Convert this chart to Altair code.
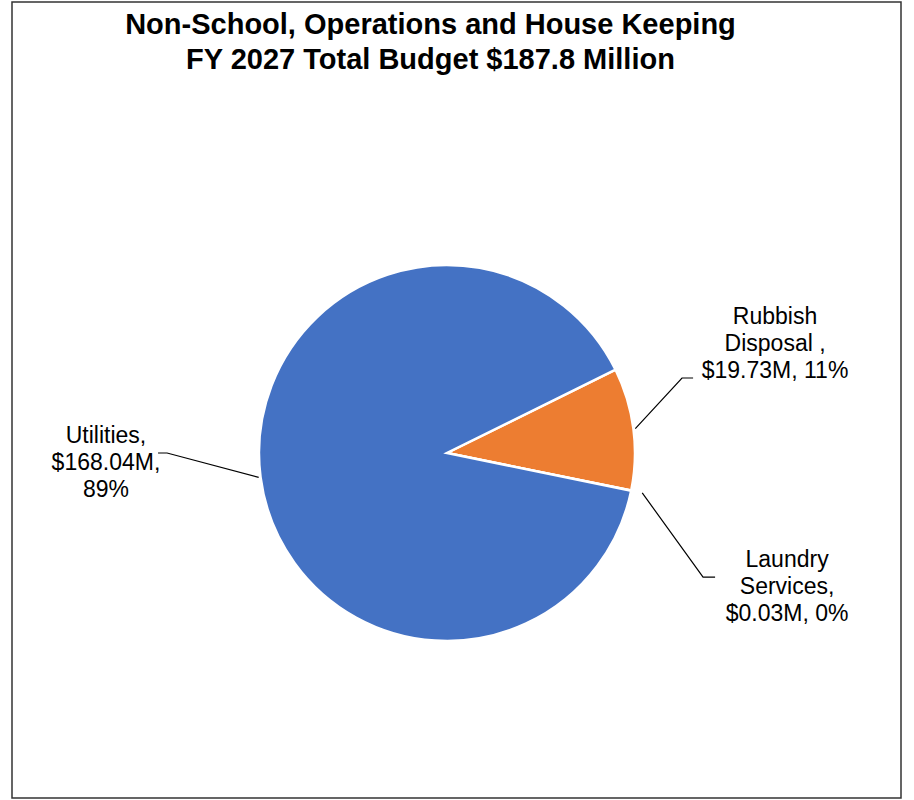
import math
import altair as alt
import pandas as pd

# ---------------- data ----------------
categories = ["Rubbish Disposal ", "Laundry Services", "Utilities"]
values = [19.73, 0.03, 168.04]          # $ millions
name_lines = [["Rubbish", "Disposal ,"], ["Laundry", "Services,"], ["Utilities,"]]
split_value_line = [False, False, True]  # value and % on separate lines?
colors = ["#ED7D31", "#A5A5A5", "#4472C4"]
title_lines = ["Non-School, Operations and House Keeping",
               "FY 2027 Total Budget $187.8 Million"]

# ---------------- layout ----------------
VIEW_W, VIEW_H = 889, 796
PAD_L, PAD_T = 12, 2
CX, CY, R = 435, 451, 188            # pie centre / radius (view px)
START_DEG = 63.7                      # angle of first slice edge (clockwise from 12 o'clock)
EDGE_R = {"Rubbish Disposal ": 1.01, "Laundry Services": 1.06, "Utilities": 1.01}
LEADER = {  # elbow and end of leader lines, in pie-radius units
    "Rubbish Disposal ": [(1.250, -0.399), (1.309, -0.399)],
    "Laundry Services": [(1.362, 0.660), (1.426, 0.660)],
    "Utilities": [(-1.489, 0.0), (-1.537, 0.0)],
}
LABEL_AT = {  # label centre x / first baseline, in pie-radius units
    "Rubbish Disposal ": (1.745, -0.686),
    "Laundry Services": (1.809, 0.607),
    "Utilities": (-1.814, -0.053),
}
FONT = "Liberation Sans"

total = sum(values)
a0 = math.radians(START_DEG)

pie_df = pd.DataFrame({"cat": categories, "value": values, "ord": list(range(len(values)))})

# mid angles of each slice (for leader lines)
line_rows, text_rows = [], []
cum = 0.0
for cat, v, nl, split in zip(categories, values, name_lines, split_value_line):
    mid = a0 + 2 * math.pi * (cum + v / 2) / total
    cum += v
    er = EDGE_R[cat]
    pts = [(er * math.sin(mid), -er * math.cos(mid))] + LEADER[cat]
    for i, (u, w) in enumerate(pts):
        line_rows.append({"cat": cat, "step": i, "u": u, "v": w})
    money = f"${v:.2f}M"
    pct = f"{round(100 * v / total)}%"
    if split:
        lines = nl + [money + ",", pct]
    else:
        lines = nl + [f"{money}, {pct}"]
    lu, lv = LABEL_AT[cat]
    text_rows.append({"cat": cat, "u": lu, "v": lv, "label": "\n".join(lines)})

line_df = pd.DataFrame(line_rows)
text_df = pd.DataFrame(text_rows)

xs = alt.Scale(domain=[-2, 2], range=[CX - 2 * R, CX + 2 * R])
ys = alt.Scale(domain=[-2, 2], range=[CY - 2 * R, CY + 2 * R])

pie = alt.Chart(pie_df).mark_arc(radius=R, stroke="white", strokeWidth=2.5).encode(
    theta=alt.Theta("value:Q", stack=True, scale=alt.Scale(range=[a0, a0 + 2 * math.pi])),
    order=alt.Order("ord:Q"),
    color=alt.Color("cat:N", scale=alt.Scale(domain=categories, range=colors), legend=None),
    x=alt.value(CX),
    y=alt.value(CY),
)

leaders = alt.Chart(line_df).mark_line(color="black", strokeWidth=1.2).encode(
    x=alt.X("u:Q", scale=xs, axis=None),
    y=alt.Y("v:Q", scale=ys, axis=None),
    detail="cat:N",
    order="step:Q",
)

labels = alt.Chart(text_df).mark_text(
    font=FONT, fontSize=23, lineBreak="\n", align="center",
    baseline="alphabetic", lineHeight=27, color="black",
).encode(
    x=alt.X("u:Q", scale=xs, axis=None),
    y=alt.Y("v:Q", scale=ys, axis=None),
    text="label:N",
)

chart = alt.layer(pie, leaders, labels).properties(
    width=VIEW_W,
    height=VIEW_H,
    autosize=alt.AutoSizeParams(type="none"),
    padding={"left": PAD_L, "top": PAD_T, "right": 914 - PAD_L - VIEW_W, "bottom": 800 - PAD_T - VIEW_H},
    title=alt.TitleParams(
        text=title_lines, font=FONT, fontSize=29, fontWeight="bold", color="black",
        anchor="middle", frame="group", dx=-26, offset=-73, baseline="top", lineHeight=35,
    ),
).configure_view(stroke="#333333", strokeWidth=1.5)

chart.save("out.html", embed_options={"renderer": "svg", "actions": False})
